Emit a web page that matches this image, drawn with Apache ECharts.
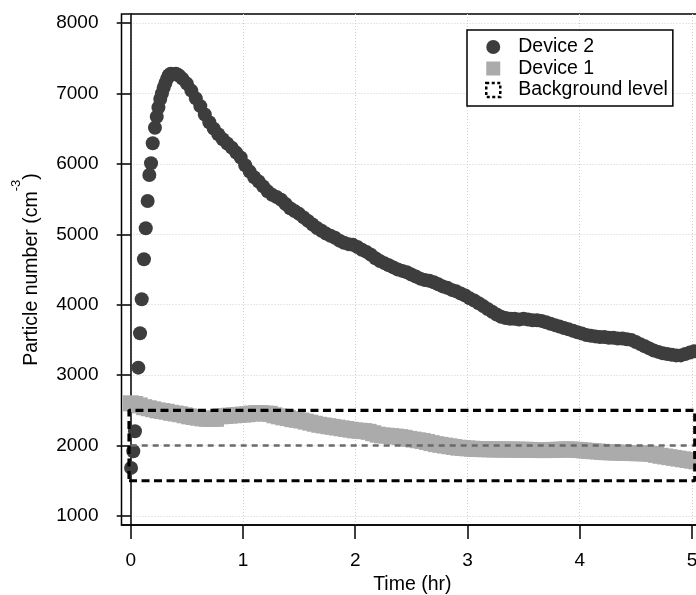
<!DOCTYPE html>
<html>
<head>
<meta charset="utf-8">
<script src="https://cdn.jsdelivr.net/npm/echarts@6/dist/echarts.min.js"></script>
<style>
html,body{margin:0;padding:0;background:#fff;}
#chart{width:696px;height:595px;}
</style>
</head>
<body>
<div id="chart"></div>
<script>
// ---- data ----
var xTicks = [0, 1, 2, 3, 4, 5];
var yTicks = [1000, 2000, 3000, 4000, 5000, 6000, 7000, 8000];

// Device 2 (dark circles): time (hr) and particle number (cm^-3)
var d2Time = [0.003,0.023,0.038,0.068,0.083,0.098,0.118,0.134,0.151,0.166,0.181,0.196,0.216,0.232,0.247,0.263,0.278,0.294,0.309,0.325,0.340,0.356,0.372,0.387,0.403,0.418,0.434,
0.46,0.50,0.54,0.58,0.62,0.66,0.70,0.74,0.78,0.82,0.86,0.90,0.94,0.98,1.02,1.06,1.10,1.14,1.18,1.22,1.26,1.30,1.34,1.38,1.42,1.46,1.50,1.54,1.58,1.62,1.66,1.70,1.74,1.78,1.82,1.86,1.90,1.94,1.98,
2.02,2.06,2.10,2.14,2.18,2.22,2.26,2.30,2.34,2.38,2.42,2.46,2.50,2.54,2.58,2.62,2.66,2.70,2.74,2.78,2.82,2.86,2.90,2.94,2.98,
3.02,3.06,3.10,3.14,3.18,3.22,3.26,3.30,3.34,3.38,3.42,3.46,3.50,3.54,3.58,3.62,3.66,3.70,3.74,3.78,3.82,3.86,3.90,3.94,3.98,
4.02,4.06,4.10,4.14,4.18,4.22,4.26,4.30,4.34,4.38,4.42,4.46,4.50,4.54,4.58,4.62,4.66,4.70,4.74,4.78,4.82,4.86,4.90,4.94,4.98,5.02];
var d2Count = [1683,1919,2203,3106,3594,4077,4645,5085,5473,5842,6008,6292,6513,6670,6800,6920,7000,7080,7150,7210,7260,7280,7270,7275,7280,7265,7250,
7210,7140,7040,6930,6820,6700,6590,6500,6420,6350,6290,6230,6160,6090,5980,5890,5810,5750,5680,5610,5560,5530,5490,5430,5370,5330,5290,5240,5190,5140,5090,5050,5010,4980,4950,4910,4880,4860,4850,
4820,4780,4750,4710,4660,4620,4590,4560,4530,4500,4480,4460,4430,4400,4370,4350,4340,4320,4290,4260,4240,4210,4190,4160,4130,
4090,4060,4020,3980,3940,3900,3860,3830,3810,3800,3800,3790,3800,3790,3780,3780,3770,3750,3730,3710,3690,3670,3650,3630,3610,
3590,3570,3560,3550,3540,3540,3530,3530,3520,3520,3510,3500,3470,3440,3410,3380,3350,3330,3310,3300,3290,3280,3280,3300,3320,3340];

// Device 1 (light grey squares)
var d1Time = [0.00,0.04,0.08,0.12,0.16,0.20,0.24,0.28,0.32,0.36,0.40,0.44,0.48,0.52,0.56,0.60,0.64,0.68,0.72,0.76,0.80,0.84,0.88,0.92,0.96,
1.00,1.04,1.08,1.12,1.16,1.20,1.24,1.28,1.32,1.36,1.40,1.44,1.48,1.52,1.56,1.60,1.64,1.68,1.72,1.76,1.80,1.84,1.88,1.92,1.96,
2.00,2.04,2.08,2.12,2.16,2.20,2.24,2.28,2.32,2.36,2.40,2.44,2.48,2.52,2.56,2.60,2.64,2.68,2.72,2.76,2.80,2.84,2.88,2.92,2.96,
3.00,3.04,3.08,3.12,3.16,3.20,3.24,3.28,3.32,3.36,3.40,3.44,3.48,3.52,3.56,3.60,3.64,3.68,3.72,3.76,3.80,3.84,3.88,3.92,3.96,
4.00,4.04,4.08,4.12,4.16,4.20,4.24,4.28,4.32,4.36,4.40,4.44,4.48,4.52,4.56,4.60,4.64,4.68,4.72,4.76,4.80,4.84,4.88,4.92,4.96,5.00,5.04];
var d1Count = [2600,2590,2570,2545,2530,2515,2500,2490,2480,2465,2455,2445,2430,2415,2405,2395,2385,2380,2378,2380,2415,2420,2425,2430,2435,
2440,2445,2455,2462,2460,2455,2450,2430,2415,2400,2390,2375,2365,2355,2340,2325,2310,2295,2285,2275,2265,2255,2245,2235,2225,
2215,2210,2205,2195,2175,2155,2145,2140,2135,2128,2120,2110,2095,2085,2075,2065,2050,2035,2020,2010,2000,1990,1980,1970,1965,
1960,1955,1952,1950,1948,1947,1946,1945,1944,1943,1943,1942,1941,1940,1938,1937,1936,1936,1936,1938,1940,1942,1945,1945,1940,
1936,1930,1925,1920,1915,1910,1906,1903,1901,1899,1897,1895,1893,1891,1890,1888,1880,1868,1855,1845,1835,1825,1815,1805,1795,1785,1775];

// Background level box
var bgLow = 1500, bgMid = 2000, bgHigh = 2500;
var bgStart = -0.015, bgEnd = 5.025;

// ---- chart ----
function zip(a, b) { return a.map(function (t, i) { return [t, b[i]]; }); }

var FONT = '"Liberation Sans", Arial, Helvetica, sans-serif';
var chart = echarts.init(document.getElementById('chart'), null, {renderer: 'canvas'});

var option = {
  animation: false,
  backgroundColor: '#fff',
  textStyle: {fontFamily: FONT, color: '#000'},
  grid: {
    left: 121.5, top: 14, width: 581.7, height: 511,
    outerBoundsMode: 'none', containLabel: false,
    show: true, borderColor: '#000', borderWidth: 1.5, backgroundColor: 'transparent'
  },
  legend: {
    orient: 'vertical',
    left: 467, top: 30,
    padding: [7, 5, 6, 18],
    borderColor: '#000', borderWidth: 1.5,
    backgroundColor: '#fff',
    itemWidth: 14, itemHeight: 14, itemGap: 1.5,
    textStyle: {fontSize: 19.5, color: '#000', fontFamily: FONT, padding: [0, 0, 0, 13]},
    data: [
      {name: 'Device 2', icon: 'circle'},
      {name: 'Device 1', icon: 'rect'},
      {name: 'Background level', icon: 'rect',
       itemStyle: {color: 'rgba(0,0,0,0)', borderColor: '#000', borderWidth: 2.5, borderType: [3, 2.5]}}
    ]
  },
  xAxis: {
    type: 'value', min: -0.082, max: 5.1, splitNumber: 5,
    name: 'Time (hr)', nameLocation: 'middle', nameGap: 48,
    nameTextStyle: {fontSize: 19.5, color: '#000', fontFamily: FONT},
    axisLine: {show: true, lineStyle: {color: '#000', width: 1.5}},
    axisTick: {show: true, inside: false, length: 14, customValues: xTicks, lineStyle: {color: '#000', width: 1.5}},
    axisLabel: {customValues: xTicks, margin: 26, fontSize: 19, color: '#000', fontFamily: FONT,
      formatter: function (v) { return String(v); }},
    splitLine: {show: true, lineStyle: {color: '#d0d0d0', width: 1, type: [1, 2]}}
  },
  yAxis: {
    type: 'value', min: 872, max: 8128, splitNumber: 7,
    name: '{a|Particle number (cm}{s|-3}{a|)}', nameLocation: 'middle', nameGap: 80, nameRotate: 90,
    nameTextStyle: {
      fontSize: 19.5, color: '#000', fontFamily: FONT,
      rich: {
        a: {fontSize: 19.5, fontFamily: FONT, color: '#000', verticalAlign: 'bottom', lineHeight: 32},
        s: {fontSize: 13, fontFamily: FONT, color: '#000', verticalAlign: 'top', lineHeight: 32}
      }
    },
    axisLine: {show: true, lineStyle: {color: '#000', width: 1.5}},
    axisTick: {show: true, inside: false, length: 14, customValues: yTicks, lineStyle: {color: '#000', width: 1.5}},
    axisLabel: {customValues: yTicks, margin: 23, fontSize: 19, color: '#000', fontFamily: FONT,
      formatter: function (v) { return String(v); }},
    splitLine: {show: true, lineStyle: {color: '#d0d0d0', width: 1, type: [1, 2]}}
  },
  series: [
    {
      name: 'Device 2', type: 'scatter', symbol: 'circle', symbolSize: 14,
      itemStyle: {color: '#3d3d3d', opacity: 1},
      data: zip(d2Time, d2Count), z: 2
    },
    {
      name: 'Device 1', type: 'scatter', symbol: 'rect', symbolSize: 16,
      itemStyle: {color: '#ababab', opacity: 1},
      data: zip(d1Time, d1Count), z: 3
    },
    {
      name: 'mid', type: 'line', symbol: 'none', silent: true,
      lineStyle: {color: '#6a6a6a', width: 2.6, type: [6, 5]},
      data: [[0, bgMid], [bgEnd, bgMid]], z: 4
    },
    {
      name: 'Background level', type: 'line', symbol: 'none', silent: true,
      itemStyle: {color: '#000'},
      lineStyle: {color: '#000', width: 3.2, type: [8, 4.5]},
      data: [[bgStart, bgLow], [bgEnd, bgLow], [bgEnd, bgHigh], [bgStart, bgHigh], [bgStart, bgLow]], z: 5
    }
  ]
};
chart.setOption(option);
</script>
</body>
</html>
